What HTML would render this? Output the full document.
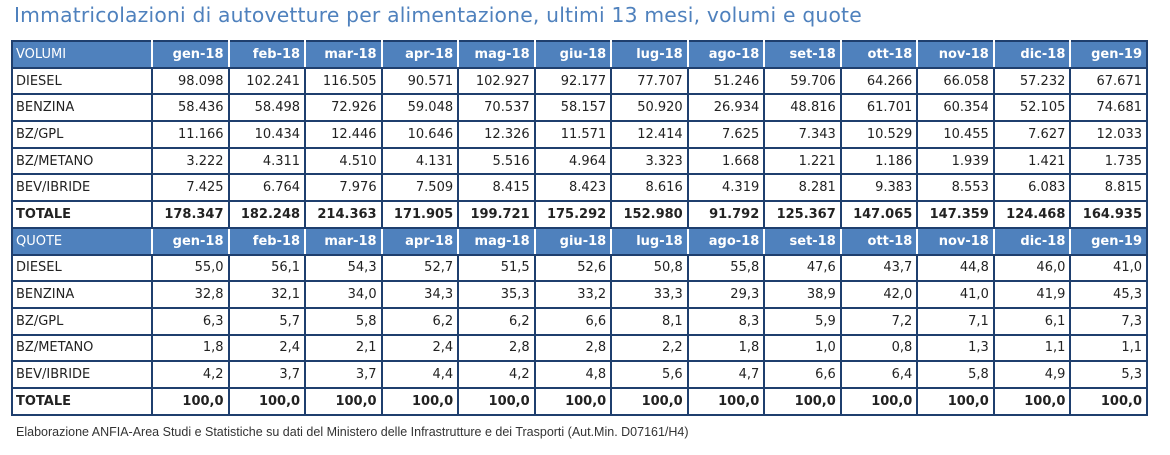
<!DOCTYPE html>
<html><head><meta charset="utf-8">
<style>
body{margin:0;width:1170px;height:455px;background:#fff;overflow:hidden;font-family:"DejaVu Sans","Liberation Sans",sans-serif;}
#title{position:absolute;left:14px;top:3px;font-size:20.3px;color:#4f81bd;white-space:nowrap;letter-spacing:0.2px}
table{position:absolute;left:11px;top:40px;border-collapse:collapse;table-layout:fixed;width:1137px}
td{height:24.7px;padding:0 4px;font-size:13px;color:#222;border:2px solid #1f3f6e;text-align:right;white-space:nowrap;overflow:hidden}
td.l{text-align:left;padding-left:3px}
tr.h td{background:#4f81bd;color:#fff;font-weight:bold;border-left:2px solid #fff;border-right:2px solid #fff;border-top:2px solid #1f3f6e;border-bottom:2px solid #1f3f6e}
tr.h td:first-child{border-left:2px solid #1f3f6e;font-weight:normal}
tr.h td:last-child{border-right:2px solid #1f3f6e}
tr.t td{font-weight:bold}
#foot{position:absolute;left:16px;top:425px;font-family:"Liberation Sans",sans-serif;font-size:12.5px;color:#333;white-space:nowrap}
</style></head>
<body>
<div id="title">Immatricolazioni di autovetture per alimentazione, ultimi 13 mesi, volumi e quote</div>
<table id="tbl">
<colgroup><col style="width:140px"></colgroup>
<tbody id="tb"></tbody>
</table>
<div id="foot">Elaborazione ANFIA-Area Studi e Statistiche su dati del Ministero delle Infrastrutture e dei Trasporti (Aut.Min. D07161/H4)</div>
<script>
const months=["gen-18","feb-18","mar-18","apr-18","mag-18","giu-18","lug-18","ago-18","set-18","ott-18","nov-18","dic-18","gen-19"];
const rowLabels=["DIESEL","BENZINA","BZ/GPL","BZ/METANO","BEV/IBRIDE","TOTALE"];
const volDiesel=["98.098","102.241","116.505","90.571","102.927","92.177","77.707","51.246","59.706","64.266","66.058","57.232","67.671"];
const volBenzina=["58.436","58.498","72.926","59.048","70.537","58.157","50.920","26.934","48.816","61.701","60.354","52.105","74.681"];
const volGpl=["11.166","10.434","12.446","10.646","12.326","11.571","12.414","7.625","7.343","10.529","10.455","7.627","12.033"];
const volMetano=["3.222","4.311","4.510","4.131","5.516","4.964","3.323","1.668","1.221","1.186","1.939","1.421","1.735"];
const volBev=["7.425","6.764","7.976","7.509","8.415","8.423","8.616","4.319","8.281","9.383","8.553","6.083","8.815"];
const volTot=["178.347","182.248","214.363","171.905","199.721","175.292","152.980","91.792","125.367","147.065","147.359","124.468","164.935"];
const qDiesel=["55,0","56,1","54,3","52,7","51,5","52,6","50,8","55,8","47,6","43,7","44,8","46,0","41,0"];
const qBenzina=["32,8","32,1","34,0","34,3","35,3","33,2","33,3","29,3","38,9","42,0","41,0","41,9","45,3"];
const qGpl=["6,3","5,7","5,8","6,2","6,2","6,6","8,1","8,3","5,9","7,2","7,1","6,1","7,3"];
const qMetano=["1,8","2,4","2,1","2,4","2,8","2,8","2,2","1,8","1,0","0,8","1,3","1,1","1,1"];
const qBev=["4,2","3,7","3,7","4,4","4,2","4,8","5,6","4,7","6,6","6,4","5,8","4,9","5,3"];
const qTot=["100,0","100,0","100,0","100,0","100,0","100,0","100,0","100,0","100,0","100,0","100,0","100,0","100,0"];
const sections=[["VOLUMI",[volDiesel,volBenzina,volGpl,volMetano,volBev,volTot]],["QUOTE",[qDiesel,qBenzina,qGpl,qMetano,qBev,qTot]]];
const tb=document.getElementById('tb');
function slug(s){return s.toLowerCase().replace(/[^a-z0-9]+/g,'-');}
sections.forEach(([name,rows])=>{
  const h=document.createElement('tr');h.className='h';
  
  
  const c0=document.createElement('td');c0.className='l';c0.textContent=name;
  
  
  h.appendChild(c0);
  months.forEach(m=>{const c=document.createElement('td');c.textContent=m;
    
    
    h.appendChild(c);});
  tb.appendChild(h);
  rows.forEach((vals,i)=>{
    const r=document.createElement('tr');if(i===5)r.className='t';
    
    
    const l=document.createElement('td');l.className='l';l.textContent=rowLabels[i];
    
    
    r.appendChild(l);
    vals.forEach(v=>{const c=document.createElement('td');c.textContent=v;
      
      
      r.appendChild(c);});
    tb.appendChild(r);
  });
});
</script>
</body></html>
